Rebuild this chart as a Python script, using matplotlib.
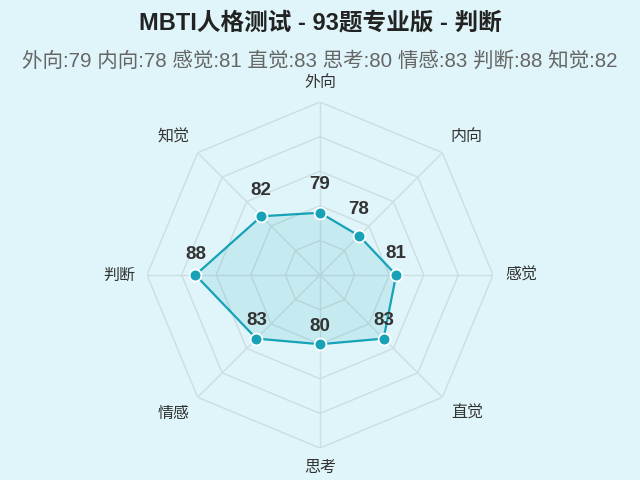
import numpy as np
import matplotlib.pyplot as plt

plt.rcParams['font.family'] = ['Liberation Sans', 'Noto Sans CJK SC', 'DejaVu Sans']

# data
dims = ['外向', '内向', '感觉', '直觉', '思考', '情感', '判断', '知觉']
scores = [79, 78, 81, 83, 80, 83, 88, 82]
rmin, rmax = 70, 95
rings = [75, 80, 85, 90, 95]

title = 'MBTI人格测试 - 93题专业版 - 判断'
subtitle = ' '.join(f'{d}:{s}' for d, s in zip(dims, scores))

bg = '#dff5f9'
teal = '#17a2b8'

fig = plt.figure(figsize=(6.4, 4.8), dpi=100, facecolor=bg)
R = 173
ax = fig.add_axes([(320 - R) / 640, (480 - 275 - R) / 480, 2 * R / 640, 2 * R / 480],
                  polar=True)
ax.set_facecolor('none')
ax.set_theta_offset(np.pi / 2)
ax.set_theta_direction(-1)
ax.set_ylim(rmin, rmax)
ax.axis('off')

n = len(dims)
angles = np.linspace(0, 2 * np.pi, n, endpoint=False)
closed = np.concatenate([angles, angles[:1]])

# octagon grid
for r in rings:
    ax.plot(closed, [r] * (n + 1), color='#cddde1', lw=1, zorder=1)
for a in angles:
    ax.plot([a, a], [rmin, rmax], color='#cddde1', lw=1, zorder=1)

vals = np.array(scores + scores[:1])
ax.fill(closed, vals, color=teal, alpha=0.13, zorder=2)
ax.plot(closed, vals, color=teal, lw=1.6, zorder=3)
ax.plot(angles, scores, 'o', color=teal, ms=8.5, mec='white', mew=1.3, zorder=4)

for a, s in zip(angles, scores):
    off = max(18, 21 + 7 * np.cos(a))
    ax.annotate(str(s), (a, s), xytext=(0, off), textcoords='offset pixels',
                ha='center', va='center', fontsize=13.5, fontweight='bold', color='#333333')

# axis names, anchored just outside the outer ring
r_lab = rmax + 1.75
for a, d in zip(angles, dims):
    sx, cy = np.sin(a), np.cos(a)
    ha = 'center' if abs(sx) < 0.1 else ('left' if sx > 0 else 'right')
    va = 'center' if abs(cy) < 0.1 else ('bottom' if cy > 0 else 'top')
    ax.text(a, r_lab, d, ha=ha, va=va, fontsize=11.5, color='#333333')

fig.text(0.5, 1 - 23 / 480, title, ha='center', va='center', fontsize=17,
         fontweight='bold', color='#222222')
fig.text(0.5, 1 - 61 / 480, subtitle, ha='center', va='center', fontsize=14.8,
         color='#666666')

fig.savefig('out.png', dpi=100, facecolor=bg)
